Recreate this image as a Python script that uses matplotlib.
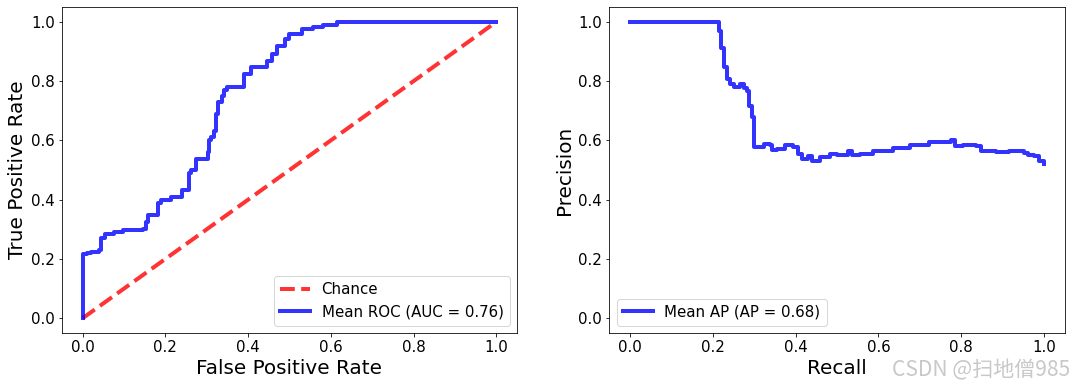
import matplotlib.pyplot as plt

# ROC curve (mean over folds)
fpr = [0.0, 0.0, 0.01, 0.02, 0.04, 0.045, 0.055, 0.075, 0.098, 0.146, 0.152, 0.158,
       0.178, 0.182, 0.19, 0.214, 0.233, 0.24, 0.258, 0.262, 0.27, 0.274, 0.298, 0.302,
       0.306, 0.31, 0.318, 0.322, 0.326, 0.338, 0.342, 0.35, 0.382, 0.39, 0.406, 0.442,
       0.446, 0.458, 0.47, 0.482, 0.49, 0.498, 0.526, 0.53, 0.558, 0.582, 0.615, 1.0]
tpr = [0.0, 0.215, 0.22, 0.225, 0.23, 0.27, 0.285, 0.29, 0.296, 0.302, 0.324, 0.347,
       0.347, 0.387, 0.40, 0.41, 0.41, 0.434, 0.49, 0.50, 0.50, 0.538, 0.538, 0.56,
       0.60, 0.61, 0.633, 0.689, 0.728, 0.751, 0.77, 0.781, 0.781, 0.824, 0.846, 0.846,
       0.869, 0.891, 0.919, 0.919, 0.942, 0.958, 0.958, 0.975, 0.983, 0.99, 1.0, 1.0]
chance = [0, 1]

# precision-recall curve (mean)
recall = [0.0, 0.211, 0.215, 0.22, 0.227, 0.235, 0.243, 0.251, 0.267, 0.275, 0.283,
          0.287, 0.295, 0.30, 0.31, 0.323, 0.339, 0.343, 0.355, 0.375, 0.395, 0.407,
          0.415, 0.431, 0.439, 0.459, 0.483, 0.499, 0.527, 0.535, 0.555, 0.587, 0.635,
          0.675, 0.723, 0.776, 0.784, 0.804, 0.836, 0.848, 0.884, 0.916, 0.952, 0.96,
          0.976, 0.988, 1.0]
precision = [1.0, 1.0, 0.97, 0.913, 0.846, 0.807, 0.79, 0.781, 0.79, 0.777, 0.768,
             0.717, 0.678, 0.577, 0.576, 0.588, 0.586, 0.566, 0.572, 0.585, 0.577, 0.554,
             0.538, 0.546, 0.53, 0.544, 0.554, 0.549, 0.563, 0.551, 0.554, 0.563, 0.574,
             0.586, 0.596, 0.60, 0.582, 0.586, 0.581, 0.563, 0.56, 0.563, 0.558, 0.549,
             0.547, 0.532, 0.519]

fig = plt.figure(figsize=(1072 / 72, 385 / 72), dpi=72)
ax1 = fig.add_axes([62 / 1072, 52 / 385, 455 / 1072, 326 / 385])
ax2 = fig.add_axes([609 / 1072, 52 / 385, 456 / 1072, 326 / 385])

ax1.plot(chance, chance, linestyle='--', lw=4, color='r', alpha=0.8, label='Chance')
ax1.plot(fpr, tpr, color='b', lw=4, alpha=0.8, drawstyle='steps-post',
         label='Mean ROC (AUC = 0.76)')
ax1.set_xlabel('False Positive Rate', fontsize=20)
ax1.set_ylabel('True Positive Rate', fontsize=20)
ax1.tick_params(labelsize=15)
ax1.legend(loc='lower right', fontsize=15)

ax2.plot(recall, precision, color='b', lw=4, alpha=0.8, drawstyle='steps-post',
         label='Mean AP (AP = 0.68)')
ax2.set_xlabel('Recall', fontsize=20)
ax2.set_ylabel('Precision', fontsize=20)
ax2.set_xlim(-0.05, 1.05)
ax2.set_ylim(-0.05, 1.05)
ax2.tick_params(labelsize=15)
ax2.legend(loc='lower left', fontsize=15)

fig.text(0.998, 0.01, 'CSDN @扫地僧985', ha='right', va='bottom', fontsize=21,
         color='#c8c8c8', family=['Noto Sans CJK SC', 'DejaVu Sans'])

fig.savefig('out.png', dpi=72)
